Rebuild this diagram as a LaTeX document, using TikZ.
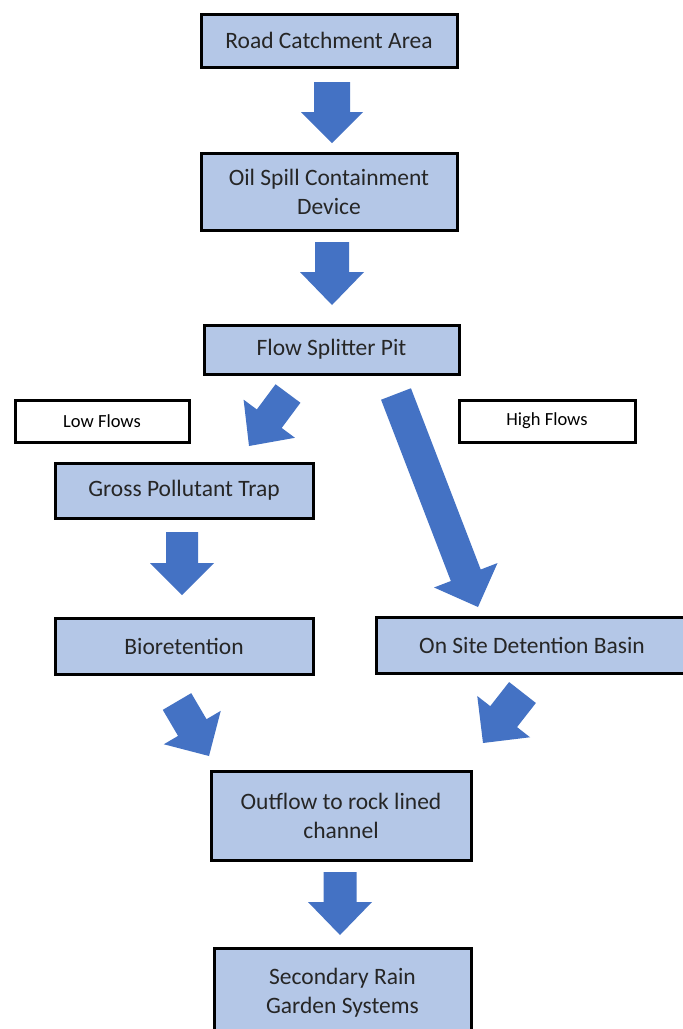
\documentclass[tikz,border=0pt]{standalone}
\usepackage{fontspec}
\setmainfont{Carlito}
\usetikzlibrary{calc}
\definecolor{boxfill}{HTML}{B4C7E7}
\definecolor{arrowfill}{HTML}{4472C4}
\definecolor{txt}{HTML}{262626}
\newcommand\blockarrow[5]{%
  \coordinate (H) at ($(#2)!#5!(#1)$);
  \fill[arrowfill] ($(#1)!#3!90:(#2)$) -- ($(H)!#3!90:(#2)$) -- ($(H)!#4!90:(#2)$) -- (#2)
    -- ($(H)!#4!-90:(#2)$) -- ($(H)!#3!-90:(#2)$) -- ($(#1)!#3!-90:(#2)$) -- cycle;
}
\begin{document}
\begin{tikzpicture}[x=1pt,y=-1pt,
  box/.style={draw=black,line width=3pt,fill=boxfill,text=txt,inner sep=0pt,align=center,
    font=\fontsize{23.5}{29}\selectfont},
  lab/.style={draw=black,line width=3pt,fill=white,text=black,inner sep=0pt,align=center,
    font=\fontsize{18.5}{22}\selectfont}]
\useasboundingbox (0,0) rectangle (683,1029);
\clip (0,0) rectangle (683,1029);
\fill[white] (0,0) rectangle (683,1029);
\node[box,minimum width=256pt,minimum height=53pt] (road) at (329,40.5) {Road Catchment Area};
\node[box,minimum width=256pt,minimum height=77pt] (oil) at (329,191.5) {Oil Spill Containment\\Device};
\node[box,minimum width=255pt,minimum height=49pt] (split) at (331.5,349.5) {Flow Splitter Pit};
\node[lab,minimum width=174pt,minimum height=42pt] (low) at (102,421) {Low Flows};
\node[lab,minimum width=176pt,minimum height=42pt] (high) at (547,421) {High Flows};
\node[box,minimum width=258pt,minimum height=55pt] (gpt) at (184,490.5) {Gross Pollutant Trap};
\node[box,minimum width=258pt,minimum height=56pt] (bio) at (184,646) {Bioretention};
\node[box,minimum width=312pt,minimum height=56pt] (osd) at (532,645) {On Site Detention Basin};
\node[box,minimum width=260pt,minimum height=89pt] (out) at (341,815.5) {Outflow to rock lined\\channel};
\node[box,minimum width=257pt,minimum height=90pt] (rain) at (342.5,993) {Secondary Rain\\Garden Systems};
% block arrows
\coordinate (a1t) at (332,82);    \coordinate (a1h) at (332,143);
\coordinate (a2t) at (332,242);   \coordinate (a2h) at (332,305);
\coordinate (a3t) at (288,393.5); \coordinate (a3h) at (249,446);
\coordinate (a4t) at (396,394);   \coordinate (a4h) at (478,607);
\coordinate (a5t) at (182,532);   \coordinate (a5h) at (182,595);
\coordinate (a6t) at (177,701.5); \coordinate (a6h) at (209,756);
\coordinate (a7t) at (522.5,692.5); \coordinate (a7h) at (483,743);
\coordinate (a8t) at (340,872);   \coordinate (a8h) at (340,935);
\blockarrow{a1t}{a1h}{18pt}{31pt}{31pt}
\blockarrow{a2t}{a2h}{17pt}{32pt}{33pt}
\blockarrow{a3t}{a3h}{15.5pt}{32pt}{34pt}
\blockarrow{a4t}{a4h}{16pt}{34pt}{34pt}
\blockarrow{a5t}{a5h}{16pt}{32pt}{32pt}
\blockarrow{a6t}{a6h}{16.5pt}{33pt}{33pt}
\blockarrow{a7t}{a7h}{17pt}{33.5pt}{33.5pt}
\blockarrow{a8t}{a8h}{16.5pt}{32pt}{33pt}
\end{tikzpicture}
\end{document}
